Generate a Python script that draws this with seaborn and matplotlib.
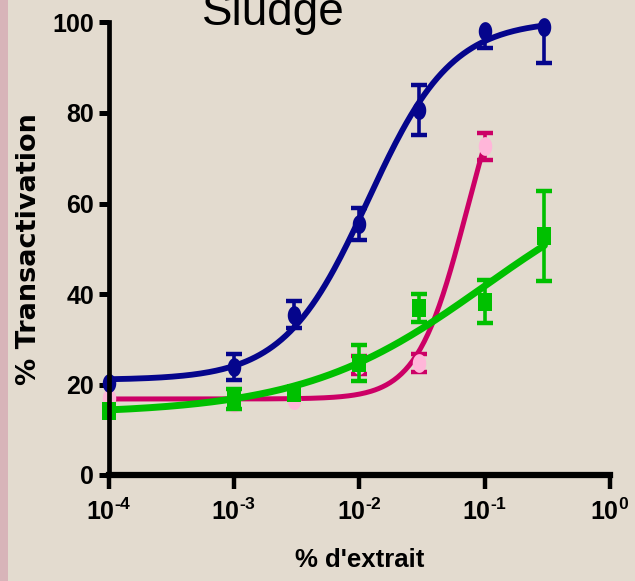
import numpy as np
import pandas as pd
import seaborn as sns
import matplotlib.pyplot as plt
from matplotlib import font_manager
from matplotlib.path import Path
from matplotlib.patches import Rectangle
from matplotlib.ticker import NullLocator

# concentrations (% d'extrait)
conc = [1e-4, 1e-3, 3e-3, 1e-2, 3e-2, 1e-1, 3e-1]

blue_y = [20.3, 23.8, 35.4, 55.5, 80.7, 98.2, 99.1]
blue_err = [0, 2.9, 3.0, 3.5, 5.5, 3.9, 8.0]

green_y = [14.2, 16.8, 18.1, 24.8, 36.9, 38.3, 52.8]
green_err = [0, 2.3, 0.0, 4.0, 3.0, 4.7, 10.0]

pink_conc = [1e-4, 1e-3, 3e-3, 1e-2, 3e-2, 1e-1]
pink_y = [17.0, 16.0, 16.5, 24.3, 24.8, 72.6]
pink_err = [0, 0, 0, 2.0, 2.0, 3.0]

# fitted sigmoid parameters: bottom, top, logEC50, hill slope, last x of the fit
blue_fit = (21.0, 100.5, -1.93, 1.3, 3e-1)
green_fit = (13.5, 70.0, -1.0, 0.6, 3e-1)
pink_fit = (16.8, 100.0, -1.143, 2.2, 1e-1)

y_ticks = [0, 20, 40, 60, 80, 100]
x_ticks = [1e-4, 1e-3, 1e-2, 1e-1, 1e0]
x_tick_labels = [r"10$^{\text{-}4}$", r"10$^{\text{-}3}$", r"10$^{\text{-}2}$",
                 r"10$^{\text{-}1}$", r"10$^{0}$"]

BG = "#e3dbcf"
NAVY = "#05058c"
MAGENTA = "#cc0066"
PALE_PINK = "#ffb6d9"
GREEN = "#00c000"

names = {f.name for f in font_manager.fontManager.ttflist}
narrow = "Liberation Sans Narrow" if "Liberation Sans Narrow" in names else "Liberation Sans"

sns.set_theme(style="ticks")
plt.rcParams["font.family"] = [narrow, "DejaVu Sans"]
plt.rcParams["mathtext.fontset"] = "custom"
plt.rcParams["mathtext.rm"] = f"{narrow}:bold"
plt.rcParams["mathtext.bf"] = f"{narrow}:bold"
plt.rcParams["mathtext.it"] = f"{narrow}:bold"


def hill(x, bottom, top, logec50, slope):
    return bottom + (top - bottom) / (1 + 10 ** ((logec50 - np.log10(x)) * slope))


def curve(fit):
    xs = np.logspace(-4, np.log10(fit[4]), 200)
    return pd.DataFrame({"x": xs, "y": hill(xs, *fit[:4])})


# markers a bit taller than wide, like the original
t = np.linspace(0, 2 * np.pi, 60)
ellipse = Path(np.column_stack([0.36 * np.cos(t), 0.5 * np.sin(t)]), closed=True)
rect = Path([(-0.36, -0.5), (0.36, -0.5), (0.36, 0.5), (-0.36, 0.5), (-0.36, -0.5)], closed=True)

fig = plt.figure(figsize=(6.35, 5.81), dpi=100, facecolor=BG)
fig.patches.append(Rectangle((0, 0), 8 / 635, 1, transform=fig.transFigure,
                             facecolor="#d8b4b9", edgecolor="none", zorder=0))
ax = fig.add_axes([108.5 / 635, 1 - 475 / 581, 501.5 / 635, 452.5 / 581])
ax.set_facecolor("none")

series = [
    (pink_conc, pink_y, pink_err, pink_fit, MAGENTA, PALE_PINK, ellipse, 3.6),
    (conc, green_y, green_err, green_fit, GREEN, GREEN, rect, 5.0),
    (conc, blue_y, blue_err, blue_fit, NAVY, NAVY, ellipse, 4.2),
]

for xs, ys, errs, fit, col, mcol, mk, lw in series:
    sns.lineplot(data=curve(fit), x="x", y="y", color=col, linewidth=lw, ax=ax)
    xe = [x for x, e in zip(xs, errs) if e > 0]
    ye = [y for y, e in zip(ys, errs) if e > 0]
    ee = [e for e in errs if e > 0]
    ax.errorbar(xe, ye, yerr=ee, fmt="none", ecolor=col, elinewidth=2.6,
                capsize=6, capthick=3.2)
    ax.plot(xs, ys, linestyle="none", marker=mk, markersize=13.5, color=mcol,
            markeredgewidth=0, clip_on=False)

ax.set_xscale("log")
ax.set_xlim(1e-4, 1e0)
ax.set_ylim(0, 100)
ax.set_xticks(x_ticks)
ax.set_xticklabels(x_tick_labels)
ax.xaxis.set_minor_locator(NullLocator())
ax.set_yticks(y_ticks)

sns.despine(ax=ax)
ax.spines["left"].set_linewidth(3.4)
ax.spines["bottom"].set_linewidth(4.5)
ax.spines["left"].set_color("black")
ax.spines["bottom"].set_color("black")

ax.tick_params(axis="y", direction="out", length=7.5, width=3.6, color="black",
               labelsize=18, pad=3)
ax.tick_params(axis="x", direction="out", length=10, width=3.2, color="black",
               labelsize=18, pad=7)
for lab in ax.get_xticklabels() + ax.get_yticklabels():
    lab.set_fontweight("bold")
    lab.set_color("black")

ax.set_ylabel("% Transactivation", family="DejaVu Sans", fontweight="bold",
              fontsize=19.5, color="black")
ax.yaxis.set_label_coords(-0.1326, 0.5)
ax.set_xlabel("% d'extrait", fontweight="bold", fontsize=18.5, color="black")
ax.xaxis.set_label_coords(0.5, -0.161)

fig.text(202 / 635, 1 - 25 / 581, "Sludge", family="Liberation Sans", fontsize=33,
         ha="left", va="baseline", color="black")

plt.savefig("out.png", dpi=100, facecolor=BG)
